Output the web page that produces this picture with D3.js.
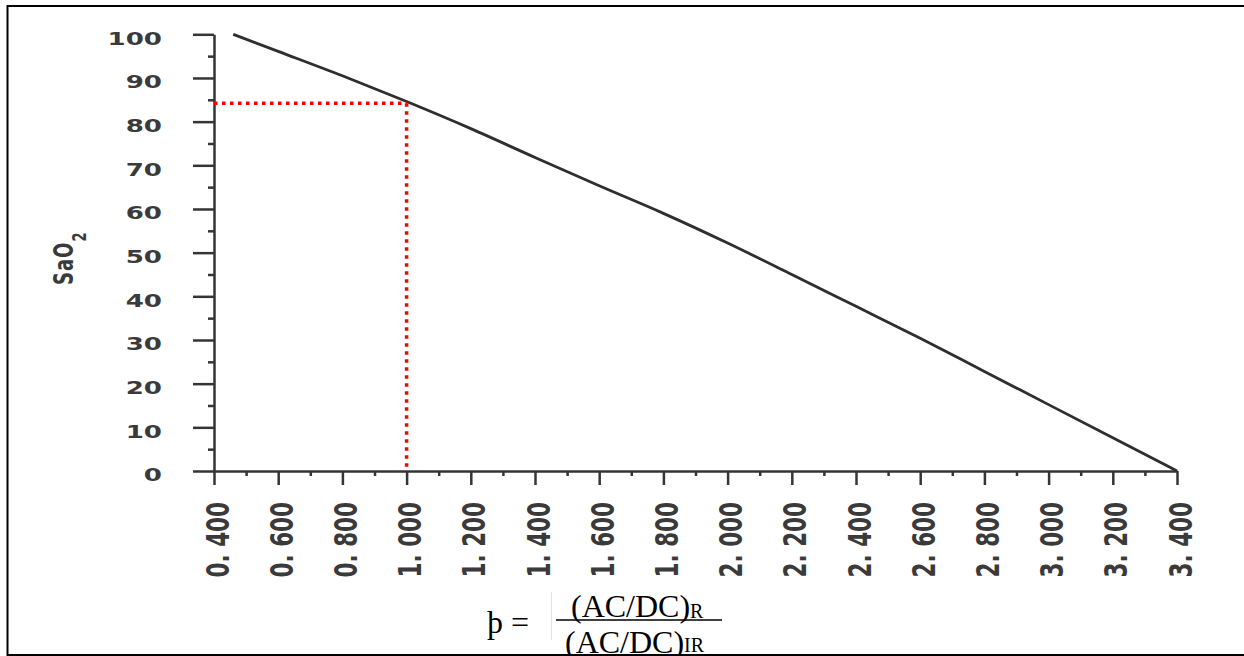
<!DOCTYPE html>
<html>
<head>
<meta charset="utf-8">
<script src="https://cdn.jsdelivr.net/npm/d3@7"></script>
<style>
  html, body { margin: 0; padding: 0; background: #fff; }
  svg { display: block; }
</style>
</head>
<body>
<svg id="chart" width="1244" height="656"></svg>
<script>
// Calibration curve: ratio of ratios (R / IR) against arterial saturation
const ratio = [0.46, 0.6, 0.8, 1.0, 1.2, 1.4, 1.6, 1.8, 2.0, 2.2, 2.4, 2.6, 2.8, 3.0, 3.2, 3.4];
const sao2  = [100, 96.1, 90.5, 84.6, 78.4, 71.8, 65.3, 59.0, 52.2, 45.0, 37.7, 30.4, 22.8, 15.2, 7.6, 0];

// Reading guide drawn at ratio 1.0
const guideRatio = 1.0;
const guideSat = 84.2;

// Axis ticks
const xTickValues = [0.4, 0.6, 0.8, 1.0, 1.2, 1.4, 1.6, 1.8, 2.0, 2.2, 2.4, 2.6, 2.8, 3.0, 3.2, 3.4];
const xTickLabels = ["0. 400", "0. 600", "0. 800", "1. 000", "1. 200", "1. 400", "1. 600", "1. 800",
                     "2. 000", "2. 200", "2. 400", "2. 600", "2. 800", "3. 000", "3. 200", "3. 400"];
const xMinorTicks = [0.5, 0.7, 0.9, 1.1, 1.3, 1.5, 1.7, 1.9, 2.1, 2.3, 2.5, 2.7, 2.9, 3.1, 3.3];
const yTickValues = [0, 10, 20, 30, 40, 50, 60, 70, 80, 90, 100];
const yTickLabels = ["0", "10", "20", "30", "40", "50", "60", "70", "80", "90", "100"];
const yMinorTicks = [5, 15, 25, 35, 45, 55, 65, 75, 85, 95];

const svg = d3.select("#chart");
const ink = "#353535";
const stretch = 1.45;   // wide plotter lettering

const x = d3.scaleLinear().domain([0.4, 3.4]).range([214, 1177]);
const y = d3.scaleLinear().domain([0, 100]).range([471, 34.3]);

// Minor ticks
svg.append("g").attr("transform", `translate(0,${y(0)})`)
  .call(d3.axisBottom(x).tickValues(xMinorTicks).tickSize(5).tickSizeOuter(0).tickFormat(""))
  .call(g => g.select(".domain").remove());
svg.append("g").attr("transform", `translate(${x(0.4)},0)`)
  .call(d3.axisLeft(y).tickValues(yMinorTicks).tickSize(6).tickSizeOuter(0).tickFormat(""))
  .call(g => g.select(".domain").remove());

// Major X axis
const gx = svg.append("g").attr("transform", `translate(0,${y(0)})`)
  .call(d3.axisBottom(x).tickValues(xTickValues).tickSize(14).tickSizeOuter(0)
        .tickFormat((d, i) => xTickLabels[i]));
gx.selectAll(".tick text")
  .attr("x", null).attr("y", null).attr("dy", null)
  .attr("transform", `translate(3,31) scale(${stretch},1) rotate(-90)`)
  .attr("text-anchor", "end")
  .attr("dominant-baseline", "central");

// Major Y axis
const gy = svg.append("g").attr("transform", `translate(${x(0.4)},0)`)
  .call(d3.axisLeft(y).tickValues(yTickValues).tickSize(21).tickSizeOuter(0)
        .tickFormat((d, i) => yTickLabels[i]));
gy.selectAll(".tick text")
  .attr("x", null).attr("dy", null)
  .attr("transform", `translate(-52,3.5) scale(${stretch},1)`)
  .attr("text-anchor", "end")
  .attr("dominant-baseline", "central");

svg.selectAll(".domain, .tick line")
  .attr("stroke", ink).attr("stroke-width", 2.5);
gx.selectAll(".tick text").attr("font-size", 21.5);
gy.selectAll(".tick text").attr("font-size", 18);
svg.selectAll(".tick text")
  .attr("fill", "#3a3a3a")
  .attr("font-family", "'DejaVu Sans', sans-serif")
  .attr("font-weight", "bold");

// Y axis title
const yTitle = svg.append("text")
  .attr("transform", `translate(73,285) scale(${stretch},1) rotate(-90)`)
  .attr("font-family", "'DejaVu Sans', sans-serif")
  .attr("font-size", 18)
  .attr("font-weight", "bold")
  .attr("letter-spacing", 1)
  .attr("fill", "#3a3a3a");
yTitle.append("tspan").text("SaO");
yTitle.append("tspan").attr("font-size", 13).attr("dy", 9).text("2");

// Calibration curve
const pts = ratio.map((r, i) => [r, sao2[i]]);
svg.append("path")
  .datum(pts)
  .attr("fill", "none")
  .attr("stroke", "#2e2e2e")
  .attr("stroke-width", 2.8)
  .attr("d", d3.line().x(d => x(d[0])).y(d => y(d[1])).curve(d3.curveMonotoneX));

// Red dotted reading guide
const guide = svg.append("g")
  .attr("stroke", "#ff0000")
  .attr("stroke-width", 3.5)
  .attr("stroke-dasharray", "3.5,4.5")
  .attr("fill", "none");
guide.append("line")
  .attr("x1", x(0.4)).attr("x2", x(guideRatio))
  .attr("y1", y(guideSat)).attr("y2", y(guideSat));
guide.append("line")
  .attr("x1", x(guideRatio)).attr("x2", x(guideRatio))
  .attr("y1", y(guideSat)).attr("y2", y(0));

// Ratio-of-ratios definition
const serif = "'Liberation Serif', 'Times New Roman', serif";
svg.append("line")
  .attr("x1", 551.5).attr("x2", 551.5).attr("y1", 592).attr("y2", 640)
  .attr("stroke", "#e4e4e4").attr("stroke-width", 1);
svg.append("text")
  .attr("x", 487).attr("y", 633)
  .attr("font-family", serif).attr("font-size", 32).attr("fill", "#000")
  .text("þ =");
const num = svg.append("text")
  .attr("x", 571).attr("y", 617)
  .attr("font-family", serif).attr("font-size", 32).attr("fill", "#000");
num.append("tspan").text("(AC/DC)");
num.append("tspan").attr("font-size", 20).attr("dy", 1).text("R");
svg.append("line")
  .attr("x1", 556).attr("x2", 722).attr("y1", 620).attr("y2", 620)
  .attr("stroke", "#000").attr("stroke-width", 1.5);
const den = svg.append("text")
  .attr("x", 565).attr("y", 653)
  .attr("font-family", serif).attr("font-size", 32).attr("fill", "#000");
den.append("tspan").text("(AC/DC)");
den.append("tspan").attr("font-size", 20).attr("dy", -1).text("IR");

// Frame
svg.append("rect")
  .attr("x", 7.5).attr("y", 6).attr("width", 1260).attr("height", 649)
  .attr("fill", "none").attr("stroke", "#000").attr("stroke-width", 2);
</script>
</body>
</html>
